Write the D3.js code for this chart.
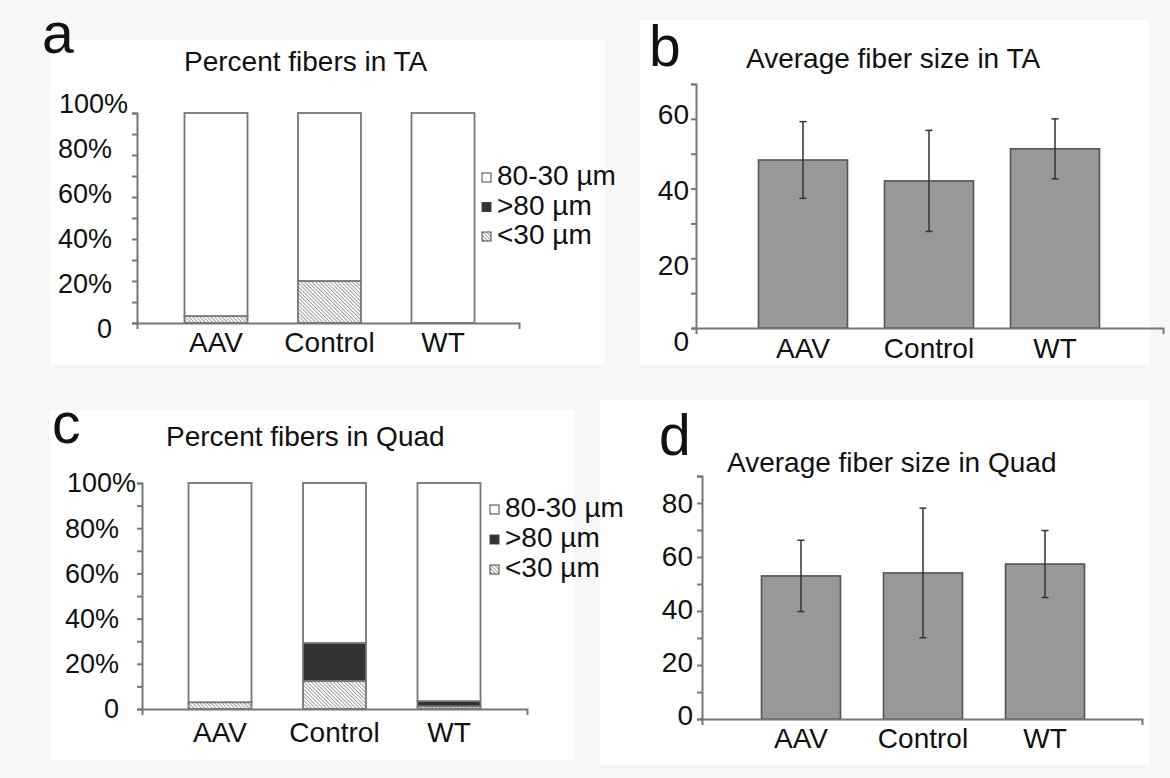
<!DOCTYPE html>
<html>
<head>
<meta charset="utf-8">
<script src="https://cdn.jsdelivr.net/npm/d3@7"></script>
<style>
  body { margin: 0; background: #f7f7f7; }
  svg { display: block; font-family: "Liberation Sans", Arial, sans-serif; }
</style>
</head>
<body>
<svg id="fig" width="1170" height="778"></svg>
<script>
// groups on the x axis of every panel
var groups = ["AAV", "Control", "WT"];

// stack order, bottom to top: <30, >80, 80-30
var sizeKeys = ["small", "large", "mid"];
var legendLabels = ["80-30 µm", ">80 µm", "<30 µm"];
var legendKeys = ["mid", "large", "small"];

// percent of fibers (panels a and c)
var taSmall = [3.3, 20, 0];
var taLarge = [0, 0, 0];
var quadSmall = [3, 12.4, 1.2];
var quadLarge = [0, 16.8, 2.3];

// average fiber size with error (panels b and d)
var taMean = [48.2, 42.2, 51.4];
var taErr = [11, 14.5, 8.6];
var quadMean = [53, 54.1, 57.4];
var quadErr = [13.2, 24, 12.4];

// tick labels
var pctTicks = [0, 20, 40, 60, 80, 100];
var pctLabels = ["0", "20%", "40%", "60%", "80%", "100%"];
var taTicks = [0, 20, 40, 60];
var quadTicks = [0, 20, 40, 60, 80];

var svg = d3.select("#fig");

// white patches behind the panels, the rest of the figure is light grey
var patches = [[50, 40, 555, 325], [640, 20, 510, 345], [50, 410, 525, 350], [600, 400, 550, 365]];
svg.selectAll(".patch").data(patches).enter().append("rect")
    .attr("x", function (d) { return d[0]; })
    .attr("y", function (d) { return d[1]; })
    .attr("width", function (d) { return d[2]; })
    .attr("height", function (d) { return d[3]; })
    .attr("fill", "#fff");

// fine hatch for the <30 µm part
var defs = svg.append("defs");
var pat = defs.append("pattern")
    .attr("id", "hatch")
    .attr("width", 2.6).attr("height", 2.6)
    .attr("patternUnits", "userSpaceOnUse")
    .attr("patternTransform", "rotate(-45)");
pat.append("rect").attr("width", 2.6).attr("height", 2.6).attr("fill", "#fff");
pat.append("line").attr("x1", 0).attr("y1", 0).attr("x2", 0).attr("y2", 2.6)
    .attr("stroke", "#555").attr("stroke-width", 1.1);

var fillFor = { small: "url(#hatch)", large: "#333", mid: "#fff" };

function panelText(p) {
    svg.append("text")
        .attr("x", p.letterX).attr("y", p.letterY)
        .attr("font-size", 57).attr("fill", "#111")
        .text(p.letter);
    svg.append("text")
        .attr("x", p.titleX).attr("y", p.titleY)
        .attr("font-size", 28).attr("fill", "#111")
        .text(p.title);
}

function drawAxes(g, y, p, tickVals) {
    g.append("g")
        .attr("transform", "translate(" + p.axisX + ",0)")
        .call(d3.axisLeft(y).tickValues(tickVals).tickSize(5).tickSizeOuter(5).tickFormat(""))
        .call(function (a) {
            a.selectAll("path, line").attr("stroke", "#777").attr("stroke-width", 2);
        });

    var xl = d3.scaleLinear().domain([0, 1]).range([p.axisX, p.xEnd]);
    g.append("g")
        .attr("transform", "translate(0," + p.y0 + ")")
        .call(d3.axisBottom(xl).tickValues([]).tickSizeOuter(6))
        .call(function (a) {
            a.selectAll("path").attr("stroke", "#777").attr("stroke-width", 2);
        });
}

function catLabels(g, x, p) {
    g.selectAll(".cat").data(groups).enter().append("text")
        .attr("class", "cat")
        .attr("x", function (d) { return x(d); })
        .attr("y", p.catY)
        .attr("text-anchor", "middle")
        .attr("font-size", 28).attr("fill", "#111")
        .text(function (d) { return d; });
}

// "main" of the percent panels
function percentChart(p, small, large) {
    panelText(p);
    var g = svg.append("g");

    var y = d3.scaleLinear().domain([0, 100]).range([p.y0, p.y1]);
    var yLab = d3.scaleLinear().domain([0, 100]).range(p.labRange);
    var x = d3.scalePoint().domain(groups).range([p.c0, p.c1]);

    var rows = groups.map(function (gr, i) {
        return { x: gr, small: small[i], large: large[i], mid: 100 - small[i] - large[i] };
    });
    var series = d3.stack().keys(sizeKeys)(rows);

    g.selectAll(".serie").data(series).enter().append("g")
        .attr("fill", function (d) { return fillFor[d.key]; })
        .selectAll("rect")
        .data(function (d) { return d.filter(function (e) { return e[1] - e[0] > 0; }); })
        .enter().append("rect")
        .attr("x", function (d) { return x(d.data.x) - p.barW / 2; })
        .attr("y", function (d) { return y(d[1]); })
        .attr("width", p.barW)
        .attr("height", function (d) { return y(d[0]) - y(d[1]); })
        .attr("stroke", "#777").attr("stroke-width", 1.8);

    drawAxes(g, y, p, d3.range(0, 101, 10));

    g.selectAll(".ylab").data(pctTicks).enter().append("text")
        .attr("x", function (d) { return d === 100 ? p.labRight + p.hundredShift : p.labRight; })
        .attr("y", function (d) { return yLab(d); })
        .attr("dy", "0.35em")
        .attr("text-anchor", "end")
        .attr("font-size", 27).attr("fill", "#111")
        .text(function (d, i) { return pctLabels[i]; });

    catLabels(g, x, p);

    // legend
    var leg = g.selectAll(".leg").data(legendKeys).enter().append("g")
        .attr("transform", function (d, i) {
            return "translate(" + p.legX + "," + (p.legY + i * p.legStep) + ")";
        });
    leg.append("rect")
        .attr("width", 9).attr("height", 9)
        .attr("fill", function (d) { return fillFor[d]; })
        .attr("stroke", "#444").attr("stroke-width", 1);
    leg.append("text")
        .attr("x", 15).attr("y", 12)
        .attr("font-size", 28).attr("fill", "#111")
        .text(function (d, i) { return legendLabels[i]; });
}

// "main" of the average size panels
function sizeChart(p, mean, err, labTicks) {
    panelText(p);
    var g = svg.append("g");

    var y = d3.scaleLinear().domain([0, p.max]).range([p.y0, p.y1]);
    var yLab = d3.scaleLinear().domain([0, labTicks[labTicks.length - 1]]).range(p.labRange);
    var x = d3.scalePoint().domain(groups).range([p.c0, p.c1]);

    var rows = groups.map(function (gr, i) { return { x: gr, m: mean[i], e: err[i] }; });

    g.selectAll(".bar").data(rows).enter().append("rect")
        .attr("x", function (d) { return x(d.x) - p.barW / 2; })
        .attr("y", function (d) { return y(d.m); })
        .attr("width", p.barW)
        .attr("height", function (d) { return p.y0 - y(d.m); })
        .attr("fill", "#989898")
        .attr("stroke", "#555").attr("stroke-width", 1.6);

    var eb = g.selectAll(".err").data(rows).enter().append("g")
        .attr("stroke", "#333").attr("stroke-width", 1.5);
    eb.append("line")
        .attr("x1", function (d) { return x(d.x); })
        .attr("x2", function (d) { return x(d.x); })
        .attr("y1", function (d) { return y(d.m + d.e); })
        .attr("y2", function (d) { return y(d.m - d.e); });
    [1, -1].forEach(function (s) {
        eb.append("line")
            .attr("x1", function (d) { return x(d.x) - 3.5; })
            .attr("x2", function (d) { return x(d.x) + 3.5; })
            .attr("y1", function (d) { return y(d.m + s * d.e); })
            .attr("y2", function (d) { return y(d.m + s * d.e); });
    });

    drawAxes(g, y, p, d3.range(0, p.max + 1, 10));

    g.selectAll(".ylab").data(labTicks).enter().append("text")
        .attr("x", p.labRight)
        .attr("y", function (d) { return yLab(d); })
        .attr("dy", "0.35em")
        .attr("text-anchor", "end")
        .attr("font-size", 28).attr("fill", "#111")
        .text(function (d) { return d; });

    catLabels(g, x, p);
}

percentChart({
    letter: "a", letterX: 42, letterY: 53,
    title: "Percent fibers in TA", titleX: 184, titleY: 71,
    axisX: 137, xEnd: 519, y0: 323, y1: 113,
    c0: 216, c1: 443, barW: 63, catY: 352,
    labRight: 112, hundredShift: 16, labRange: [329, 104],
    legX: 482, legY: 173, legStep: 29.5
}, taSmall, taLarge);

sizeChart({
    letter: "b", letterX: 649, letterY: 66,
    title: "Average fiber size in TA", titleX: 746, titleY: 68,
    axisX: 696, xEnd: 1163, y0: 328, y1: 84, max: 70,
    c0: 803, c1: 1055, barW: 89, catY: 358,
    labRight: 689, labRange: [341, 114.5]
}, taMean, taErr, taTicks);

percentChart({
    letter: "c", letterX: 52, letterY: 443,
    title: "Percent fibers in Quad", titleX: 166, titleY: 446,
    axisX: 142, xEnd: 527, y0: 709, y1: 483,
    c0: 220, c1: 449, barW: 63, catY: 742,
    labRight: 119, hundredShift: 17, labRange: [709, 483],
    legX: 490, legY: 505, legStep: 30
}, quadSmall, quadLarge);

sizeChart({
    letter: "d", letterX: 659, letterY: 455,
    title: "Average fiber size in Quad", titleX: 727, titleY: 472,
    axisX: 702, xEnd: 1142, y0: 719, y1: 476, max: 90,
    c0: 801, c1: 1045, barW: 79, catY: 748,
    labRight: 693, labRange: [715, 503]
}, quadMean, quadErr, quadTicks);
</script>
</body>
</html>
